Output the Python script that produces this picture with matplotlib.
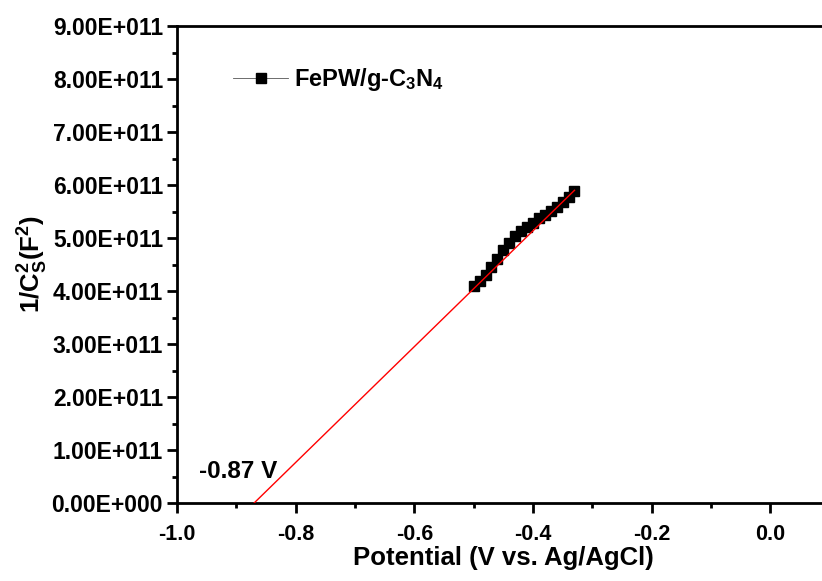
import matplotlib
matplotlib.use("Agg")
import matplotlib.pyplot as plt
import numpy as np
from matplotlib.ticker import MultipleLocator, FixedLocator

plt.rcParams['font.family'] = ['Liberation Sans', 'DejaVu Sans']
plt.rcParams['font.weight'] = 'bold'
plt.rcParams['mathtext.fontset'] = 'custom'
plt.rcParams['mathtext.rm'] = 'Liberation Sans:bold'
plt.rcParams['mathtext.default'] = 'rm'

# data
potential = [-0.50, -0.49, -0.48, -0.47, -0.46, -0.45, -0.44, -0.43, -0.42,
             -0.41, -0.40, -0.39, -0.38, -0.37, -0.36, -0.35, -0.34, -0.33]
inv_c2 = [4.10e11, 4.18e11, 4.30e11, 4.45e11, 4.61e11, 4.77e11, 4.91e11, 5.03e11, 5.13e11,
          5.21e11, 5.29e11, 5.37e11, 5.44e11, 5.51e11, 5.59e11, 5.67e11, 5.77e11, 5.89e11]
fit_x = [-0.87, -0.33]
fit_y = [0.0, 5.90e11]
series_label = r'FePW/g-C$_3$N$_4$'
intercept_label = '-0.87 V'
ytick_vals = [0, 1e11, 2e11, 3e11, 4e11, 5e11, 6e11, 7e11, 8e11, 9e11]
ytick_labels = ['0.00E+000', '1.00E+011', '2.00E+011', '3.00E+011', '4.00E+011',
                '5.00E+011', '6.00E+011', '7.00E+011', '8.00E+011', '9.00E+011']
xtick_vals = [-1.0, -0.8, -0.6, -0.4, -0.2, 0.0]
xtick_labels = ['-1.0', '-0.8', '-0.6', '-0.4', '-0.2', '0.0']

fig = plt.figure(figsize=(8.22, 5.81), dpi=100)
ax = fig.add_axes([177/822, 78/581, (829.6-177)/822, 477/581])

ax.plot(potential, inv_c2, color='black', lw=0.8, marker='s', ms=6.8,
        mfc='black', mec='black', label=series_label, zorder=3)
ax.plot(fit_x, fit_y, color='red', lw=1.0, zorder=4)

ax.set_xlim(-1.0, 0.1)
ax.set_ylim(0, 9e11)
ax.xaxis.set_major_locator(FixedLocator(xtick_vals))
ax.set_xticklabels(xtick_labels)
ax.xaxis.set_minor_locator(MultipleLocator(0.1))
ax.yaxis.set_major_locator(FixedLocator(ytick_vals))
ax.set_yticklabels(ytick_labels)
ax.yaxis.set_minor_locator(MultipleLocator(0.5e11))

for s in ax.spines.values():
    s.set_linewidth(2.0)
ax.spines['right'].set_visible(False)
ax.tick_params(which='major', direction='out', length=7, width=2)
ax.tick_params(which='minor', direction='out', length=3.6, width=2)
ax.tick_params(axis='y', which='major', labelsize=16.5, pad=3)
ax.tick_params(axis='x', which='major', labelsize=15.5, pad=8)
ax.tick_params(top=False, right=False, which='both')
for lab in ax.get_xticklabels() + ax.get_yticklabels():
    lab.set_fontweight('bold')

ax.set_xlabel('Potential (V vs. Ag/AgCl)', fontsize=18.5, fontweight='bold', labelpad=1)
ax.set_ylabel(r'1/C$_\mathrm{S}^\mathrm{2}$(F$^\mathrm{2}$)', fontsize=18.5, fontweight='bold', labelpad=1)

ax.text(-0.963, 0.60e11, intercept_label, fontsize=17.5, fontweight='bold', va='center', ha='left')

leg = ax.legend(loc='center left', bbox_to_anchor=(0.071, 0.887), frameon=False,
                fontsize=17, handlelength=2.35, handletextpad=0.25, borderaxespad=0)
for h in leg.legend_handles:
    h.set_linewidth(0.6)
    h.set_color('#555555')
    h.set_markerfacecolor('black')
    h.set_markeredgecolor('black')
    h.set_markersize(7)

fig.savefig('out.png', dpi=100)
